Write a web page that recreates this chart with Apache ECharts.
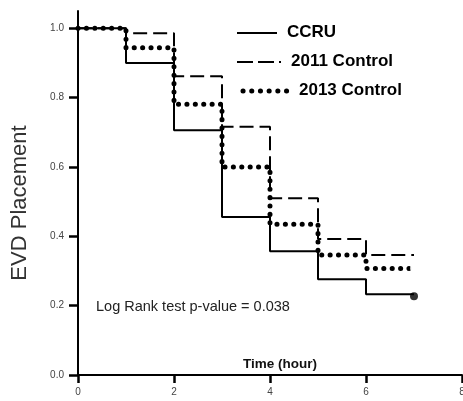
<!DOCTYPE html>
<html>
<head>
<meta charset="utf-8">
<script src="https://cdn.jsdelivr.net/npm/echarts@6/dist/echarts.min.js"></script>
<style>html,body{margin:0;padding:0;background:#fff;}#c{width:463px;height:401px;}</style>
</head>
<body>
<div id="c"></div>
<script>
var times = [0, 1, 2, 3, 4, 5, 6, 7];
var ccru = [1.0, 0.90, 0.706, 0.456, 0.357, 0.276, 0.233, 0.233];
var control2011 = [1.0, 0.986, 0.862, 0.716, 0.51, 0.392, 0.346, 0.346];
var control2013 = [1.0, 0.944, 0.781, 0.600, 0.435, 0.346, 0.307, 0.307];
var ccruEnd = [[7, 0.227]];
var censored2013 = [[7, 0.323], [7, 0.308]];
var yTicks = [0, 0.2, 0.4, 0.6, 0.8, 1.0];

function pairs(ys) { return times.map(function (t, i) { return [t, ys[i]]; }); }

var chart = echarts.init(document.getElementById('c'));
var font = 'Liberation Sans, Arial, sans-serif';
chart.setOption({
  animation: false,
  backgroundColor: '#fff',
  grid: { left: 78, right: 1, top: 11, bottom: 26, containLabel: false, outerBoundsMode: 'none' },
  xAxis: {
    type: 'value', min: 0, max: 8, interval: 2,
    axisLine: { show: true, lineStyle: { color: '#000', width: 2 } },
    axisTick: { show: true, inside: false, length: 8, lineStyle: { color: '#000', width: 2.5 } },
    axisLabel: { color: '#444', fontSize: 10, fontFamily: font, margin: 12, showMaxLabel: true },
    splitLine: { show: false }
  },
  yAxis: {
    type: 'value', min: 0, max: 1.05,
    axisLine: { show: true, lineStyle: { color: '#000', width: 2 } },
    axisTick: { show: true, inside: false, length: 9, customValues: yTicks, lineStyle: { color: '#000', width: 2.5 } },
    axisLabel: { color: '#444', fontSize: 10, fontFamily: font, margin: 14, customValues: yTicks,
      formatter: function (v) { return (Math.round(v * 10) / 10).toFixed(1); } },
    splitLine: { show: false }
  },
  series: [
    { name: 'CCRU', type: 'line', step: 'end', symbol: 'none', data: pairs(ccru),
      lineStyle: { color: '#000', width: 2 }, z: 2 },
    { name: '2011 Control', type: 'line', step: 'end', symbol: 'none', data: pairs(control2011),
      lineStyle: { color: '#000', width: 2, type: [14, 6] }, z: 3 },
    { name: '2013 Control', type: 'line', step: 'end', symbol: 'none', data: pairs(control2013),
      lineStyle: { color: '#000', width: 5, type: [0.1, 8.3], cap: 'round' }, z: 4 },
    { name: 'CCRU end', type: 'scatter', data: ccruEnd, symbol: 'circle', symbolSize: 8,
      itemStyle: { color: '#000' }, z: 5 },
    { name: '2013 censored', type: 'scatter', data: censored2013, symbol: 'emptyCircle', symbolSize: 6,
      itemStyle: { color: '#fff', borderColor: '#000', borderWidth: 1.8 }, z: 6 }
  ],
  graphic: [
    { type: 'text', x: 20, y: 203, rotation: Math.PI / 2,
      style: { text: 'EVD Placement', font: '22px ' + font, fill: '#333', align: 'center', verticalAlign: 'middle' } },
    { type: 'line', shape: { x1: 237, y1: 33, x2: 277, y2: 33 }, style: { stroke: '#000', lineWidth: 2 } },
    { type: 'text', left: 287, top: 24, style: { text: 'CCRU', font: 'bold 17px ' + font, fill: '#000' } },
    { type: 'line', shape: { x1: 237, y1: 62, x2: 281, y2: 62 }, style: { stroke: '#000', lineWidth: 2, lineDash: [16, 5] } },
    { type: 'text', left: 291, top: 53, style: { text: '2011 Control', font: 'bold 17px ' + font, fill: '#000' } },
    { type: 'line', shape: { x1: 243, y1: 91, x2: 287, y2: 91 }, style: { stroke: '#000', lineWidth: 5, lineDash: [0.1, 8.6], lineCap: 'round' } },
    { type: 'text', left: 299, top: 82, style: { text: '2013 Control', font: 'bold 17px ' + font, fill: '#000' } },
    { type: 'text', left: 96, top: 299, style: { text: 'Log Rank test p-value = 0.038', font: '14.5px ' + font, fill: '#222' } },
    { type: 'text', left: 243, top: 357, style: { text: 'Time (hour)', font: 'bold 13.5px ' + font, fill: '#111' } }
  ]
});
</script>
</body>
</html>
